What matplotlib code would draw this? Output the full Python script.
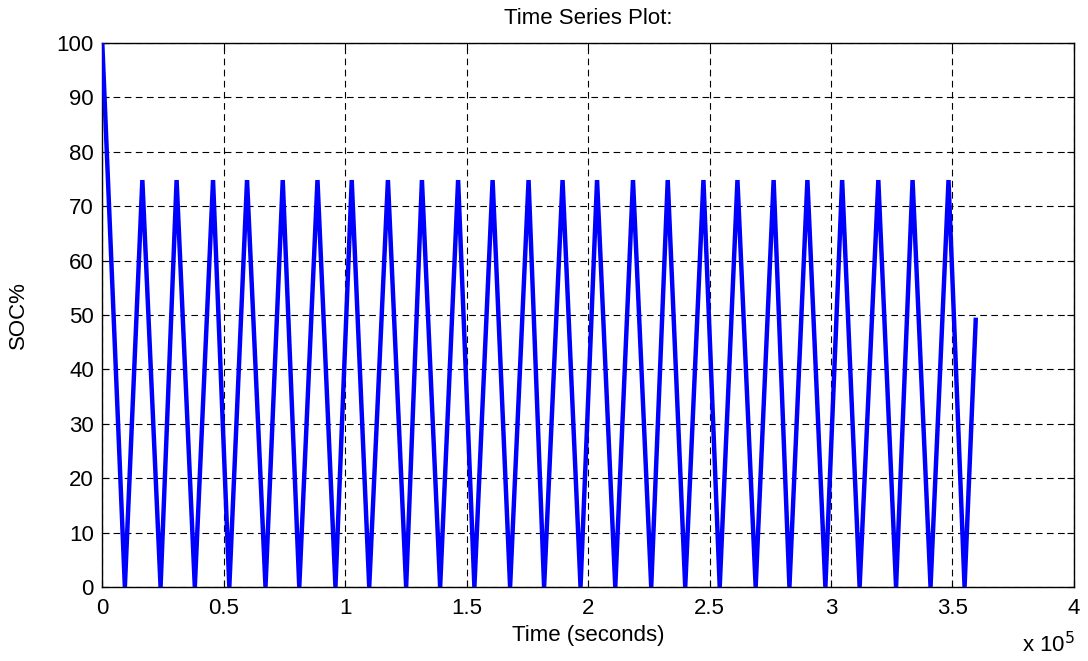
import matplotlib
matplotlib.use("Agg")
import matplotlib.pyplot as plt
from matplotlib.ticker import FuncFormatter, MultipleLocator

plt.rcParams['font.family'] = ['Liberation Sans', 'DejaVu Sans']

# time of each turning point (x 1e5 s) and SOC% at that point
t_peak = [0.165, 0.306, 0.456, 0.596, 0.743, 0.886, 1.027, 1.176, 1.316, 1.465,
          1.607, 1.755, 1.895, 2.037, 2.185, 2.328, 2.475, 2.615, 2.764, 2.903,
          3.046, 3.195, 3.336, 3.484]
t_trough = [0.093, 0.240, 0.381, 0.523, 0.672, 0.811, 0.960, 1.099, 1.251, 1.391,
            1.532, 1.679, 1.819, 1.969, 2.112, 2.260, 2.400, 2.542, 2.690, 2.829,
            2.977, 3.118, 3.268, 3.410, 3.550]
soc_start = 100.0
soc_peak = 74.8
soc_trough = 0.0
t_end = 3.596
soc_end = 49.1

# build the sawtooth: start, then trough/peak alternating, then the last point
t = [0.0]
soc = [soc_start]
for i in range(len(t_trough)):
    t.append(t_trough[i] * 1e5)
    soc.append(soc_trough)
    if i < len(t_peak):
        t.append(t_peak[i] * 1e5)
        soc.append(soc_peak)
t.append(t_end * 1e5)
soc.append(soc_end)

fig = plt.figure(figsize=(10.88, 6.61), dpi=100)
ax = fig.add_axes([0.094, 0.112, 0.893, 0.823])

ax.plot(t, soc, color='#0000ff', lw=3.2, solid_joinstyle='miter', zorder=3)

ax.set_xlim(0, 4e5)
ax.set_ylim(0, 100)
ax.xaxis.set_major_locator(MultipleLocator(0.5e5))
ax.yaxis.set_major_locator(MultipleLocator(10))
ax.xaxis.set_major_formatter(FuncFormatter(lambda v, p: '%g' % (v / 1e5)))

ax.grid(True, color='black', lw=0.8, linestyle=(0, (6, 4)))
ax.tick_params(direction='in', top=True, right=True, length=5, width=0.8,
               labelsize=16)
ax.tick_params(axis='x', pad=8)
ax.tick_params(axis='y', pad=6)
for s in ax.spines.values():
    s.set_linewidth(1.0)

ax.set_title('Time Series Plot:', fontsize=16, pad=14)
ax.set_xlabel('Time (seconds)', fontsize=16, labelpad=4)
ax.set_ylabel('SOC%', fontsize=16, labelpad=20)
fig.text(0.988, 0.005, r'x 10$^5$', ha='right', va='bottom', fontsize=16)

fig.savefig('out.png', dpi=100)
